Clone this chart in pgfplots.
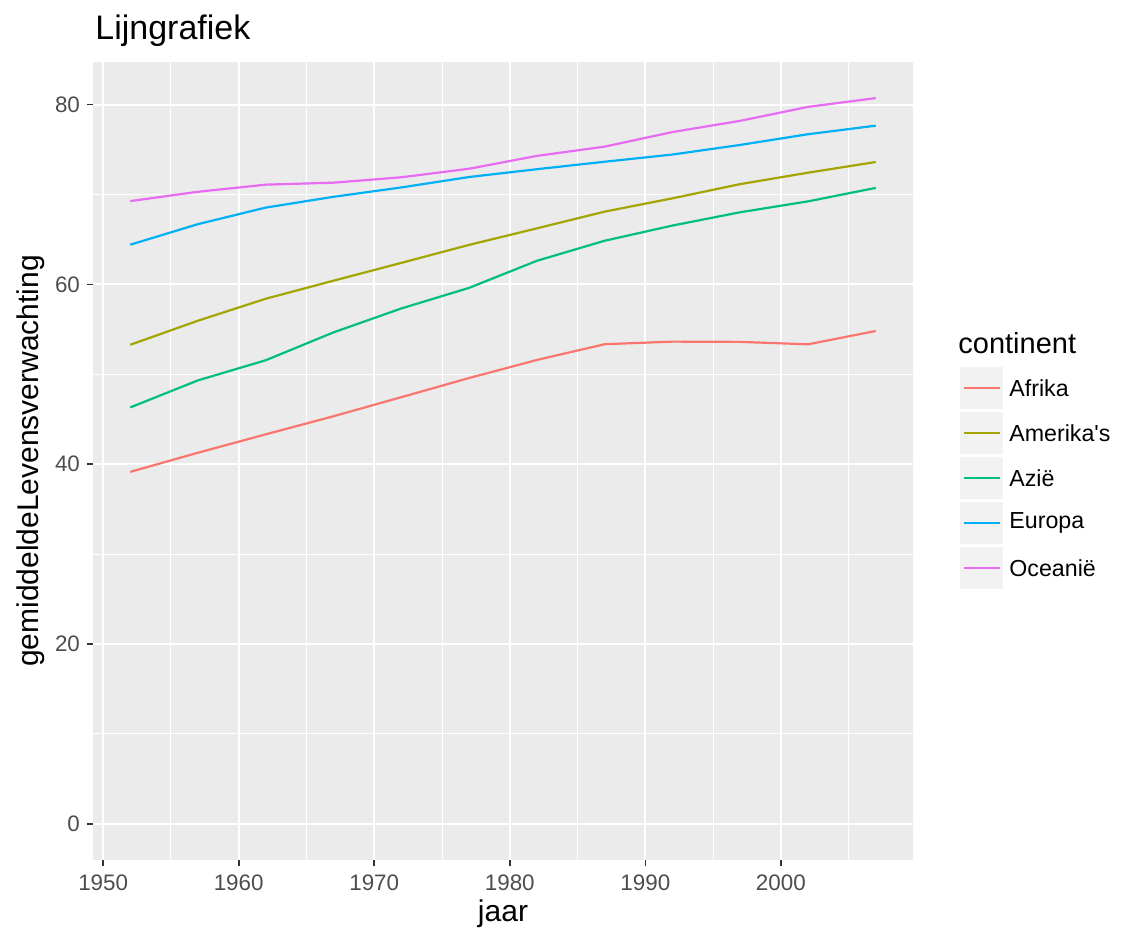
\documentclass[border=0pt]{standalone}
\usepackage{pgfplots}
\pgfplotsset{compat=1.18}
\usepackage{fontspec}
\setmainfont{Liberation Sans}
\definecolor{cAf}{HTML}{F8766D}
\definecolor{cAm}{HTML}{A3A500}
\definecolor{cAz}{HTML}{00BF7D}
\definecolor{cEu}{HTML}{00B0F6}
\definecolor{cOc}{HTML}{E76BF3}
\definecolor{panel}{HTML}{EBEBEB}
\definecolor{keybg}{HTML}{F2F2F2}
\definecolor{tickc}{HTML}{333333}
\definecolor{labc}{HTML}{4D4D4D}
\begin{document}
\begin{tikzpicture}[x=1pt,y=1pt]
\path[use as bounding box] (0,0) rectangle (568,472);
\begin{axis}[
  at={(46.5pt,42pt)}, anchor=south west,
  scale only axis, width=410pt, height=399pt,
  xmin=1949.25, xmax=2009.75, ymin=-4.035, ymax=84.735,
  axis background/.style={fill=panel},
  axis line style={draw=none},
  grid=both,
  major grid style={white, line width=1pt},
  minor grid style={white, line width=0.5pt},
  xtick={1950,1960,...,2000},
  minor xtick={1955,1965,...,2005},
  ytick={0,20,...,80},
  minor ytick={10,30,50,70},
  xtick pos=lower, ytick pos=left,
  tick align=outside,
  major tick length=3pt, minor tick length=0pt,
  tick style={tickc, line width=0.8pt},
  /pgf/number format/assume math mode=true,
  /pgf/number format/1000 sep={},
  xticklabel style={font=\fontsize{11.2}{13}\selectfont, text=labc, yshift=-1pt},
  yticklabel style={font=\fontsize{11.2}{13}\selectfont, text=labc},
  every axis plot/.append style={line width=1.1pt, mark=none},
]
\addplot[cAf] coordinates {(1952,39.14) (1957,41.27) (1962,43.32) (1967,45.33) (1972,47.45) (1977,49.58) (1982,51.59) (1987,53.34) (1992,53.63) (1997,53.60) (2002,53.33) (2007,54.81)};
\addplot[cAm] coordinates {(1952,53.28) (1957,55.96) (1962,58.40) (1967,60.41) (1972,62.39) (1977,64.39) (1982,66.23) (1987,68.09) (1992,69.57) (1997,71.15) (2002,72.42) (2007,73.61)};
\addplot[cAz] coordinates {(1952,46.31) (1957,49.32) (1962,51.56) (1967,54.66) (1972,57.32) (1977,59.61) (1982,62.62) (1987,64.85) (1992,66.54) (1997,68.02) (2002,69.23) (2007,70.73)};
\addplot[cEu] coordinates {(1952,64.41) (1957,66.70) (1962,68.54) (1967,69.74) (1972,70.78) (1977,71.94) (1982,72.81) (1987,73.64) (1992,74.44) (1997,75.51) (2002,76.70) (2007,77.65)};
\addplot[cOc] coordinates {(1952,69.26) (1957,70.30) (1962,71.09) (1967,71.31) (1972,71.91) (1977,72.86) (1982,74.29) (1987,75.32) (1992,76.94) (1997,78.19) (2002,79.74) (2007,80.72)};
\end{axis}
% titles
\node[anchor=base west, inner sep=0pt, font=\fontsize{17}{20}\selectfont] at (47.5,452) {Lijngrafiek};
\node[anchor=base, inner sep=0pt, font=\fontsize{15}{18}\selectfont] at (251.5,11.5) {jaar};
\node[anchor=base, rotate=90, inner sep=0pt, font=\fontsize{15}{18}\selectfont] at (19,241.5) {gemiddeldeLevensverwachting};
% legend
\node[anchor=base west, inner sep=0pt, font=\fontsize{14.5}{17}\selectfont] at (479,295) {continent};
\foreach \i/\c/\t in {0/cAf/Afrika,1/cAm/Amerika\textquotesingle s,2/cAz/Azië,3/cEu/Europa,4/cOc/Oceanië}{
  \pgfmathsetmacro{\yc}{472-(388+45*\i)/2}
  \fill[keybg] (480,\yc-10.5) rectangle (501.5,\yc+10.5);
  \draw[\c, line width=1.1pt] (482,\yc) -- (500,\yc);
  \node[anchor=west, inner sep=0pt, font=\fontsize{11.6}{14}\selectfont] at (504.5,\yc) {\t};
}
\end{tikzpicture}
\end{document}
